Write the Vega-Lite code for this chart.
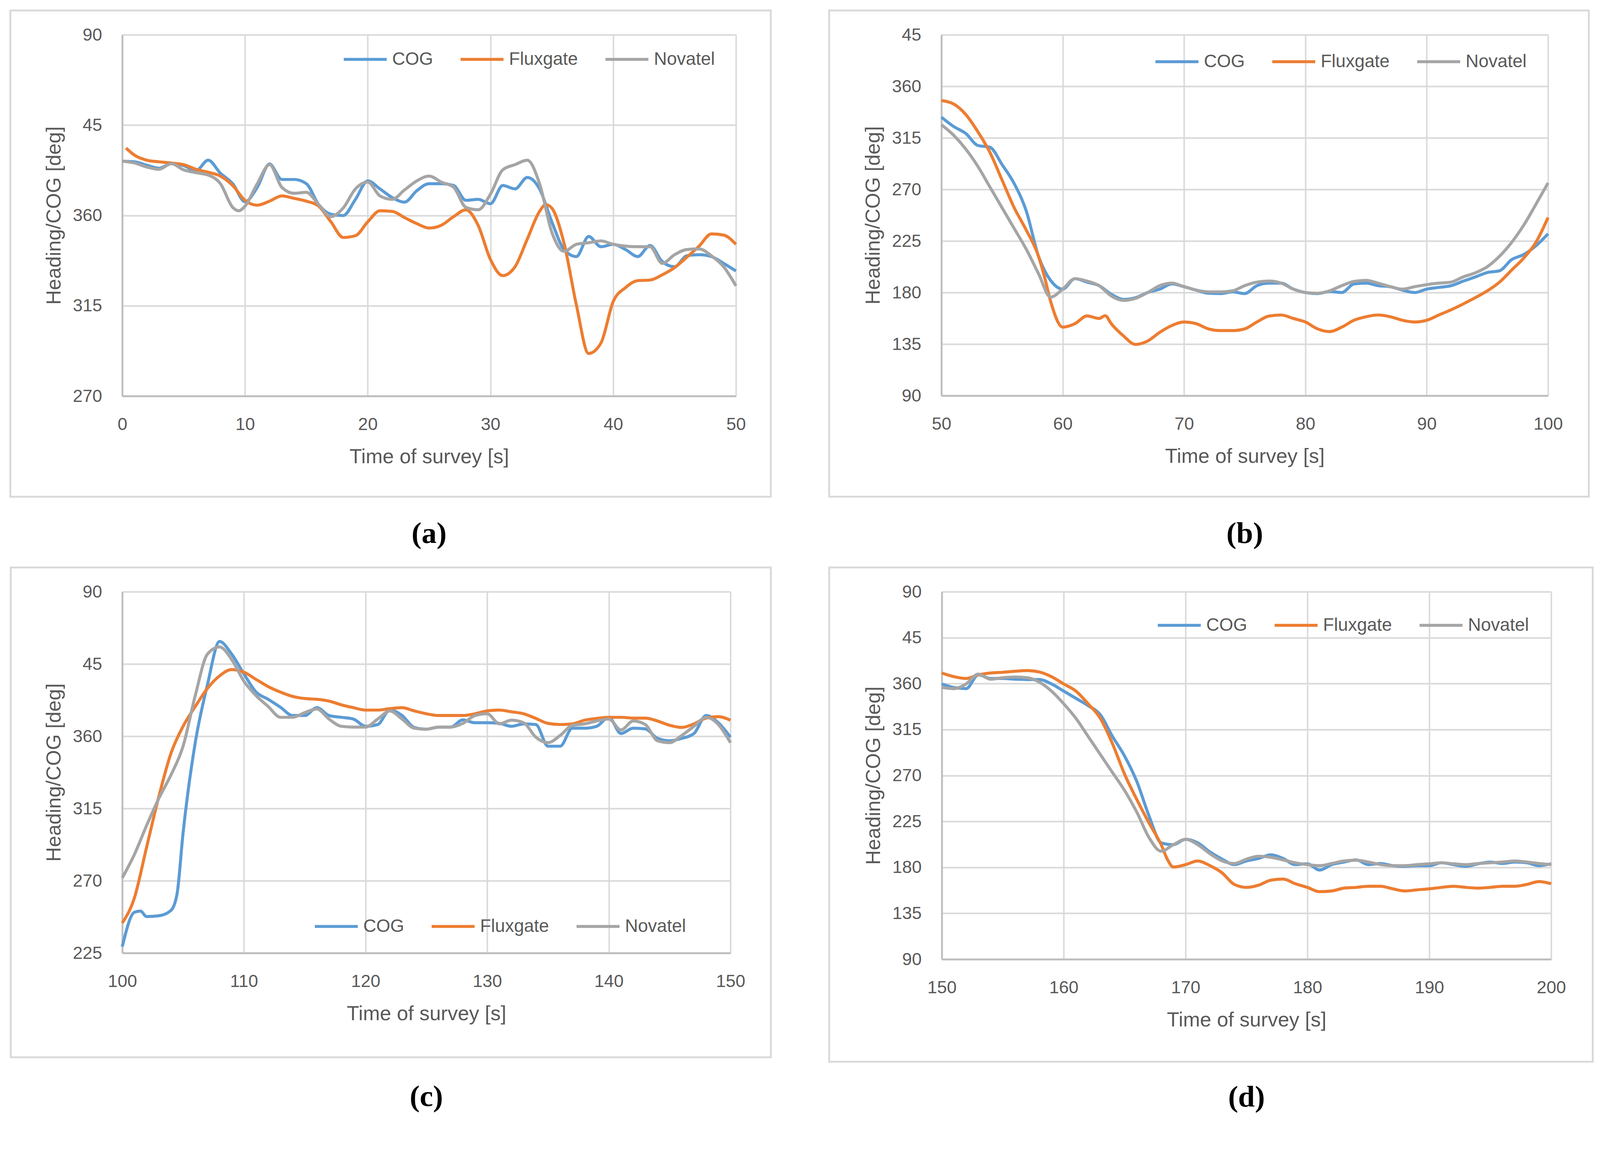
{
 "$schema": "https://vega.github.io/schema/vega-lite/v6.json",
 "padding": {"left": 24, "top": 24, "right": 4, "bottom": 6},
 "background": "white",
 "datasets": {
  "a": [
   {"t":0,"s":"COG","v":387},{"t":1,"s":"COG","v":386.7},{"t":2,"s":"COG","v":385},{"t":3,"s":"COG","v":383.5},{"t":4,"s":"COG","v":385.8},{"t":5,"s":"COG","v":384.8},{"t":6,"s":"COG","v":382.3},{"t":7,"s":"COG","v":387.5},{"t":8,"s":"COG","v":381},{"t":9,"s":"COG","v":375.8},{"t":10,"s":"COG","v":366.8},{"t":11,"s":"COG","v":374},{"t":12,"s":"COG","v":385.6},{"t":13,"s":"COG","v":377.9},{"t":14,"s":"COG","v":377.9},{"t":15,"s":"COG","v":375.8},{"t":16,"s":"COG","v":365.4},{"t":17,"s":"COG","v":360.6},{"t":18,"s":"COG","v":359.9},{"t":19,"s":"COG","v":368},{"t":20,"s":"COG","v":377.2},{"t":21,"s":"COG","v":373.2},{"t":22,"s":"COG","v":368.9},{"t":23,"s":"COG","v":366.6},{"t":24,"s":"COG","v":372.3},{"t":25,"s":"COG","v":375.8},{"t":26,"s":"COG","v":375.8},{"t":27,"s":"COG","v":374.9},{"t":28,"s":"COG","v":367.5},{"t":29,"s":"COG","v":368},{"t":30,"s":"COG","v":365.8},{"t":31,"s":"COG","v":374.9},{"t":32,"s":"COG","v":373.2},{"t":33,"s":"COG","v":378.9},{"t":34,"s":"COG","v":373.2},{"t":35,"s":"COG","v":356.8},{"t":36,"s":"COG","v":343},{"t":37,"s":"COG","v":339.5},{"t":38,"s":"COG","v":349.5},{"t":39,"s":"COG","v":344.4},{"t":40,"s":"COG","v":345.6},{"t":41,"s":"COG","v":343},{"t":42,"s":"COG","v":339.5},{"t":43,"s":"COG","v":345},{"t":44,"s":"COG","v":337},{"t":45,"s":"COG","v":334.4},{"t":46,"s":"COG","v":339.9},{"t":47,"s":"COG","v":340.4},{"t":48,"s":"COG","v":339.5},{"t":49,"s":"COG","v":336.1},{"t":50,"s":"COG","v":332.3},
   {"t":0.3,"s":"Fluxgate","v":393.6},{"t":1,"s":"Fluxgate","v":390},{"t":2,"s":"Fluxgate","v":387.5},{"t":3,"s":"Fluxgate","v":386.7},{"t":4,"s":"Fluxgate","v":386.1},{"t":5,"s":"Fluxgate","v":385.3},{"t":6,"s":"Fluxgate","v":383},{"t":7,"s":"Fluxgate","v":381.5},{"t":8,"s":"Fluxgate","v":379.6},{"t":9,"s":"Fluxgate","v":374.9},{"t":10,"s":"Fluxgate","v":367.5},{"t":11,"s":"Fluxgate","v":365.1},{"t":12,"s":"Fluxgate","v":367.1},{"t":13,"s":"Fluxgate","v":369.7},{"t":14,"s":"Fluxgate","v":368.5},{"t":15,"s":"Fluxgate","v":367.1},{"t":16,"s":"Fluxgate","v":364.6},{"t":17,"s":"Fluxgate","v":356.8},{"t":18,"s":"Fluxgate","v":349},{"t":19,"s":"Fluxgate","v":349.9},{"t":20,"s":"Fluxgate","v":356.8},{"t":21,"s":"Fluxgate","v":362.3},{"t":22,"s":"Fluxgate","v":362},{"t":23,"s":"Fluxgate","v":358.9},{"t":24,"s":"Fluxgate","v":355.9},{"t":25,"s":"Fluxgate","v":353.7},{"t":26,"s":"Fluxgate","v":355.1},{"t":27,"s":"Fluxgate","v":359.4},{"t":28,"s":"Fluxgate","v":362.8},{"t":29,"s":"Fluxgate","v":355},{"t":30,"s":"Fluxgate","v":338},{"t":31,"s":"Fluxgate","v":330},{"t":32,"s":"Fluxgate","v":334.4},{"t":33,"s":"Fluxgate","v":348.2},{"t":34,"s":"Fluxgate","v":362},{"t":34.5,"s":"Fluxgate","v":365.4},{"t":35,"s":"Fluxgate","v":363.6},{"t":36,"s":"Fluxgate","v":346},{"t":37,"s":"Fluxgate","v":315.4},{"t":38,"s":"Fluxgate","v":291.2},{"t":39,"s":"Fluxgate","v":296.4},{"t":40,"s":"Fluxgate","v":317.1},{"t":41,"s":"Fluxgate","v":324},{"t":42,"s":"Fluxgate","v":327.5},{"t":43,"s":"Fluxgate","v":327.8},{"t":44,"s":"Fluxgate","v":330.4},{"t":45,"s":"Fluxgate","v":334},{"t":46,"s":"Fluxgate","v":339.2},{"t":47,"s":"Fluxgate","v":344.7},{"t":48,"s":"Fluxgate","v":350.8},{"t":49,"s":"Fluxgate","v":350.2},{"t":50,"s":"Fluxgate","v":345.6},
   {"t":0,"s":"Novatel","v":387},{"t":1,"s":"Novatel","v":386.1},{"t":2,"s":"Novatel","v":384.1},{"t":3,"s":"Novatel","v":383},{"t":4,"s":"Novatel","v":385.8},{"t":5,"s":"Novatel","v":382.7},{"t":6,"s":"Novatel","v":381.3},{"t":7,"s":"Novatel","v":380.1},{"t":8,"s":"Novatel","v":375.8},{"t":9,"s":"Novatel","v":364},{"t":9.5,"s":"Novatel","v":362.3},{"t":10,"s":"Novatel","v":364.6},{"t":11,"s":"Novatel","v":375.8},{"t":12,"s":"Novatel","v":385.3},{"t":13,"s":"Novatel","v":374},{"t":14,"s":"Novatel","v":371},{"t":15,"s":"Novatel","v":371.5},{"t":16,"s":"Novatel","v":365.4},{"t":17,"s":"Novatel","v":359.4},{"t":18,"s":"Novatel","v":363.7},{"t":19,"s":"Novatel","v":373.2},{"t":20,"s":"Novatel","v":376.6},{"t":21,"s":"Novatel","v":369.7},{"t":22,"s":"Novatel","v":368},{"t":23,"s":"Novatel","v":372.7},{"t":24,"s":"Novatel","v":377.2},{"t":25,"s":"Novatel","v":379.6},{"t":26,"s":"Novatel","v":376.6},{"t":27,"s":"Novatel","v":374},{"t":28,"s":"Novatel","v":364},{"t":29,"s":"Novatel","v":362.8},{"t":30,"s":"Novatel","v":370.6},{"t":31,"s":"Novatel","v":382.7},{"t":32,"s":"Novatel","v":385.3},{"t":33,"s":"Novatel","v":387.5},{"t":34,"s":"Novatel","v":375.8},{"t":35,"s":"Novatel","v":351.6},{"t":36,"s":"Novatel","v":342.1},{"t":37,"s":"Novatel","v":345.6},{"t":38,"s":"Novatel","v":346.4},{"t":39,"s":"Novatel","v":347.3},{"t":40,"s":"Novatel","v":345.6},{"t":41,"s":"Novatel","v":344.7},{"t":42,"s":"Novatel","v":344.4},{"t":43,"s":"Novatel","v":344.4},{"t":44,"s":"Novatel","v":336.1},{"t":45,"s":"Novatel","v":340.4},{"t":46,"s":"Novatel","v":343},{"t":47,"s":"Novatel","v":343.3},{"t":48,"s":"Novatel","v":339.9},{"t":49,"s":"Novatel","v":334.4},{"t":50,"s":"Novatel","v":324.9}
  ],
  "b": [
   {"t":50,"s":"COG","v":333.1},{"t":51,"s":"COG","v":325},{"t":52,"s":"COG","v":318.9},{"t":53,"s":"COG","v":308.4},{"t":54,"s":"COG","v":306.8},{"t":55,"s":"COG","v":291.7},{"t":56,"s":"COG","v":275.1},{"t":57,"s":"COG","v":251},{"t":58,"s":"COG","v":211.7},{"t":59,"s":"COG","v":190.6},{"t":60,"s":"COG","v":183},{"t":61,"s":"COG","v":192.1},{"t":62,"s":"COG","v":189.1},{"t":63,"s":"COG","v":186},{"t":64,"s":"COG","v":178.5},{"t":65,"s":"COG","v":174},{"t":66,"s":"COG","v":175.5},{"t":67,"s":"COG","v":180},{"t":68,"s":"COG","v":183},{"t":69,"s":"COG","v":187.5},{"t":70,"s":"COG","v":185.1},{"t":71,"s":"COG","v":182.1},{"t":72,"s":"COG","v":179.4},{"t":73,"s":"COG","v":179.1},{"t":74,"s":"COG","v":180.6},{"t":75,"s":"COG","v":179.1},{"t":76,"s":"COG","v":186},{"t":77,"s":"COG","v":188.2},{"t":78,"s":"COG","v":188.2},{"t":79,"s":"COG","v":183},{"t":80,"s":"COG","v":180},{"t":81,"s":"COG","v":179.1},{"t":82,"s":"COG","v":180.9},{"t":83,"s":"COG","v":180},{"t":84,"s":"COG","v":187.5},{"t":85,"s":"COG","v":188.2},{"t":86,"s":"COG","v":186},{"t":87,"s":"COG","v":185.1},{"t":88,"s":"COG","v":182.1},{"t":89,"s":"COG","v":180},{"t":90,"s":"COG","v":183},{"t":91,"s":"COG","v":184.5},{"t":92,"s":"COG","v":186},{"t":93,"s":"COG","v":189.9},{"t":94,"s":"COG","v":193.6},{"t":95,"s":"COG","v":197.5},{"t":96,"s":"COG","v":199},{"t":97,"s":"COG","v":208.7},{"t":98,"s":"COG","v":213.2},{"t":99,"s":"COG","v":220.8},{"t":100,"s":"COG","v":231.3},
   {"t":50,"s":"Fluxgate","v":347.6},{"t":51,"s":"Fluxgate","v":344.6},{"t":52,"s":"Fluxgate","v":335.5},{"t":53,"s":"Fluxgate","v":320.4},{"t":54,"s":"Fluxgate","v":302.3},{"t":55,"s":"Fluxgate","v":278.2},{"t":56,"s":"Fluxgate","v":254},{"t":57,"s":"Fluxgate","v":234.4},{"t":58,"s":"Fluxgate","v":211.7},{"t":58.5,"s":"Fluxgate","v":193.6},{"t":59,"s":"Fluxgate","v":172.4},{"t":60,"s":"Fluxgate","v":149.8},{"t":61,"s":"Fluxgate","v":152.8},{"t":62,"s":"Fluxgate","v":159.6},{"t":63,"s":"Fluxgate","v":157.4},{"t":63.5,"s":"Fluxgate","v":159.8},{"t":64,"s":"Fluxgate","v":152.8},{"t":65,"s":"Fluxgate","v":142.2},{"t":66,"s":"Fluxgate","v":134.7},{"t":67,"s":"Fluxgate","v":137.7},{"t":68,"s":"Fluxgate","v":145.3},{"t":69,"s":"Fluxgate","v":151.3},{"t":70,"s":"Fluxgate","v":154.3},{"t":71,"s":"Fluxgate","v":152.8},{"t":72,"s":"Fluxgate","v":148.3},{"t":73,"s":"Fluxgate","v":146.8},{"t":74,"s":"Fluxgate","v":146.8},{"t":75,"s":"Fluxgate","v":148.3},{"t":76,"s":"Fluxgate","v":154.3},{"t":77,"s":"Fluxgate","v":159.5},{"t":78,"s":"Fluxgate","v":160.4},{"t":79,"s":"Fluxgate","v":157.4},{"t":80,"s":"Fluxgate","v":154.3},{"t":81,"s":"Fluxgate","v":148.3},{"t":82,"s":"Fluxgate","v":145.9},{"t":83,"s":"Fluxgate","v":149.8},{"t":84,"s":"Fluxgate","v":155.8},{"t":85,"s":"Fluxgate","v":158.9},{"t":86,"s":"Fluxgate","v":160.4},{"t":87,"s":"Fluxgate","v":158.9},{"t":88,"s":"Fluxgate","v":155.8},{"t":89,"s":"Fluxgate","v":154.3},{"t":90,"s":"Fluxgate","v":155.8},{"t":91,"s":"Fluxgate","v":160.4},{"t":92,"s":"Fluxgate","v":164.9},{"t":93,"s":"Fluxgate","v":170},{"t":94,"s":"Fluxgate","v":175.5},{"t":95,"s":"Fluxgate","v":181.5},{"t":96,"s":"Fluxgate","v":189.1},{"t":97,"s":"Fluxgate","v":199.6},{"t":98,"s":"Fluxgate","v":210.2},{"t":99,"s":"Fluxgate","v":223.8},{"t":100,"s":"Fluxgate","v":245.5},
   {"t":50,"s":"Novatel","v":326.5},{"t":51,"s":"Novatel","v":317.4},{"t":52,"s":"Novatel","v":305.3},{"t":53,"s":"Novatel","v":290.2},{"t":54,"s":"Novatel","v":272.1},{"t":55,"s":"Novatel","v":254},{"t":56,"s":"Novatel","v":235.9},{"t":57,"s":"Novatel","v":217.7},{"t":58,"s":"Novatel","v":196.6},{"t":59,"s":"Novatel","v":176},{"t":60,"s":"Novatel","v":183},{"t":61,"s":"Novatel","v":192.1},{"t":62,"s":"Novatel","v":190},{"t":63,"s":"Novatel","v":186},{"t":64,"s":"Novatel","v":177},{"t":65,"s":"Novatel","v":173.1},{"t":66,"s":"Novatel","v":174.9},{"t":67,"s":"Novatel","v":180},{"t":68,"s":"Novatel","v":186},{"t":69,"s":"Novatel","v":188.2},{"t":70,"s":"Novatel","v":185.1},{"t":71,"s":"Novatel","v":182.1},{"t":72,"s":"Novatel","v":180.6},{"t":73,"s":"Novatel","v":180.6},{"t":74,"s":"Novatel","v":181.5},{"t":75,"s":"Novatel","v":186},{"t":76,"s":"Novatel","v":189.1},{"t":77,"s":"Novatel","v":190},{"t":78,"s":"Novatel","v":188.2},{"t":79,"s":"Novatel","v":183},{"t":80,"s":"Novatel","v":180},{"t":81,"s":"Novatel","v":179.4},{"t":82,"s":"Novatel","v":181.5},{"t":83,"s":"Novatel","v":186},{"t":84,"s":"Novatel","v":189.7},{"t":85,"s":"Novatel","v":190.6},{"t":86,"s":"Novatel","v":188.2},{"t":87,"s":"Novatel","v":185.1},{"t":88,"s":"Novatel","v":183},{"t":89,"s":"Novatel","v":185.1},{"t":90,"s":"Novatel","v":186.9},{"t":91,"s":"Novatel","v":188.2},{"t":92,"s":"Novatel","v":189.1},{"t":93,"s":"Novatel","v":193.6},{"t":94,"s":"Novatel","v":197.2},{"t":95,"s":"Novatel","v":202.6},{"t":96,"s":"Novatel","v":211.7},{"t":97,"s":"Novatel","v":223.8},{"t":98,"s":"Novatel","v":238.9},{"t":99,"s":"Novatel","v":257},{"t":100,"s":"Novatel","v":275.7}
  ],
  "c": [
   {"t":100,"s":"COG","v":229},{"t":101,"s":"COG","v":250.4},{"t":101.5,"s":"COG","v":251.1},{"t":102,"s":"COG","v":247.7},{"t":103,"s":"COG","v":248.2},{"t":104,"s":"COG","v":251.5},{"t":104.5,"s":"COG","v":261.6},{"t":105,"s":"COG","v":299.9},{"t":106,"s":"COG","v":356},{"t":107,"s":"COG","v":392},{"t":108,"s":"COG","v":419},{"t":109,"s":"COG","v":411.1},{"t":110,"s":"COG","v":398.8},{"t":111,"s":"COG","v":387.5},{"t":112,"s":"COG","v":383},{"t":113,"s":"COG","v":378.1},{"t":114,"s":"COG","v":372.9},{"t":115,"s":"COG","v":372.9},{"t":116,"s":"COG","v":377.8},{"t":117,"s":"COG","v":372.9},{"t":118,"s":"COG","v":371.8},{"t":119,"s":"COG","v":370.7},{"t":120,"s":"COG","v":366.2},{"t":121,"s":"COG","v":367.3},{"t":122,"s":"COG","v":376.3},{"t":123,"s":"COG","v":372.9},{"t":124,"s":"COG","v":365.5},{"t":125,"s":"COG","v":364.4},{"t":126,"s":"COG","v":365.7},{"t":127,"s":"COG","v":365.7},{"t":128,"s":"COG","v":370.2},{"t":129,"s":"COG","v":368.4},{"t":130,"s":"COG","v":368.4},{"t":131,"s":"COG","v":368},{"t":132,"s":"COG","v":366.2},{"t":133,"s":"COG","v":367.7},{"t":134,"s":"COG","v":367.3},{"t":135,"s":"COG","v":353.8},{"t":136,"s":"COG","v":353.8},{"t":137,"s":"COG","v":365},{"t":138,"s":"COG","v":365},{"t":139,"s":"COG","v":366.2},{"t":140,"s":"COG","v":371.8},{"t":141,"s":"COG","v":361.7},{"t":142,"s":"COG","v":365},{"t":143,"s":"COG","v":364.6},{"t":144,"s":"COG","v":358.7},{"t":145,"s":"COG","v":357.2},{"t":146,"s":"COG","v":358.7},{"t":147,"s":"COG","v":361.7},{"t":148,"s":"COG","v":372.9},{"t":149,"s":"COG","v":368.4},{"t":150,"s":"COG","v":359.4},
   {"t":100,"s":"Fluxgate","v":243.7},{"t":101,"s":"Fluxgate","v":259.4},{"t":102,"s":"Fluxgate","v":290.9},{"t":103,"s":"Fluxgate","v":322.3},{"t":104,"s":"Fluxgate","v":349.3},{"t":105,"s":"Fluxgate","v":366.2},{"t":106,"s":"Fluxgate","v":378.5},{"t":107,"s":"Fluxgate","v":389.8},{"t":108,"s":"Fluxgate","v":397.6},{"t":109,"s":"Fluxgate","v":401.5},{"t":110,"s":"Fluxgate","v":399.9},{"t":111,"s":"Fluxgate","v":395.4},{"t":112,"s":"Fluxgate","v":390.9},{"t":113,"s":"Fluxgate","v":387.5},{"t":114,"s":"Fluxgate","v":384.8},{"t":115,"s":"Fluxgate","v":383.5},{"t":116,"s":"Fluxgate","v":383},{"t":117,"s":"Fluxgate","v":381.9},{"t":118,"s":"Fluxgate","v":379.6},{"t":119,"s":"Fluxgate","v":377.8},{"t":120,"s":"Fluxgate","v":376.3},{"t":121,"s":"Fluxgate","v":376.3},{"t":122,"s":"Fluxgate","v":377.2},{"t":123,"s":"Fluxgate","v":377.8},{"t":124,"s":"Fluxgate","v":375.8},{"t":125,"s":"Fluxgate","v":374},{"t":126,"s":"Fluxgate","v":372.9},{"t":127,"s":"Fluxgate","v":372.9},{"t":128,"s":"Fluxgate","v":372.9},{"t":129,"s":"Fluxgate","v":374},{"t":130,"s":"Fluxgate","v":375.8},{"t":131,"s":"Fluxgate","v":376.3},{"t":132,"s":"Fluxgate","v":375.2},{"t":133,"s":"Fluxgate","v":374},{"t":134,"s":"Fluxgate","v":371.1},{"t":135,"s":"Fluxgate","v":368},{"t":136,"s":"Fluxgate","v":367.3},{"t":137,"s":"Fluxgate","v":367.7},{"t":138,"s":"Fluxgate","v":370},{"t":139,"s":"Fluxgate","v":371.1},{"t":140,"s":"Fluxgate","v":371.8},{"t":141,"s":"Fluxgate","v":371.8},{"t":142,"s":"Fluxgate","v":371.3},{"t":143,"s":"Fluxgate","v":371.3},{"t":144,"s":"Fluxgate","v":369.5},{"t":145,"s":"Fluxgate","v":366.8},{"t":146,"s":"Fluxgate","v":365.5},{"t":147,"s":"Fluxgate","v":367.7},{"t":148,"s":"Fluxgate","v":371.3},{"t":149,"s":"Fluxgate","v":372.2},{"t":150,"s":"Fluxgate","v":370},
   {"t":100,"s":"Novatel","v":271.8},{"t":101,"s":"Novatel","v":286.4},{"t":102,"s":"Novatel","v":304.4},{"t":103,"s":"Novatel","v":321.2},{"t":104,"s":"Novatel","v":335.8},{"t":105,"s":"Novatel","v":353.8},{"t":106,"s":"Novatel","v":385.3},{"t":107,"s":"Novatel","v":411.1},{"t":108,"s":"Novatel","v":415.6},{"t":109,"s":"Novatel","v":407.7},{"t":110,"s":"Novatel","v":394.3},{"t":111,"s":"Novatel","v":385.3},{"t":112,"s":"Novatel","v":378.5},{"t":113,"s":"Novatel","v":371.8},{"t":114,"s":"Novatel","v":371.8},{"t":115,"s":"Novatel","v":374.7},{"t":116,"s":"Novatel","v":377},{"t":117,"s":"Novatel","v":370.7},{"t":118,"s":"Novatel","v":366.2},{"t":119,"s":"Novatel","v":365.7},{"t":120,"s":"Novatel","v":365.7},{"t":121,"s":"Novatel","v":370.7},{"t":122,"s":"Novatel","v":375.8},{"t":123,"s":"Novatel","v":370.7},{"t":124,"s":"Novatel","v":365},{"t":125,"s":"Novatel","v":364.4},{"t":126,"s":"Novatel","v":365.7},{"t":127,"s":"Novatel","v":365.7},{"t":128,"s":"Novatel","v":368},{"t":129,"s":"Novatel","v":372.9},{"t":130,"s":"Novatel","v":374},{"t":131,"s":"Novatel","v":367.7},{"t":132,"s":"Novatel","v":370},{"t":133,"s":"Novatel","v":368.4},{"t":134,"s":"Novatel","v":359.4},{"t":135,"s":"Novatel","v":356},{"t":136,"s":"Novatel","v":360.5},{"t":137,"s":"Novatel","v":366.8},{"t":138,"s":"Novatel","v":367.7},{"t":139,"s":"Novatel","v":369.5},{"t":140,"s":"Novatel","v":370.7},{"t":141,"s":"Novatel","v":363.9},{"t":142,"s":"Novatel","v":369.5},{"t":143,"s":"Novatel","v":367.3},{"t":144,"s":"Novatel","v":357.2},{"t":145,"s":"Novatel","v":356},{"t":146,"s":"Novatel","v":360.5},{"t":147,"s":"Novatel","v":366.2},{"t":148,"s":"Novatel","v":371.8},{"t":149,"s":"Novatel","v":367.3},{"t":150,"s":"Novatel","v":356}
  ],
  "d": [
   {"t":150,"s":"COG","v":359.7},{"t":151,"s":"COG","v":356.2},{"t":152,"s":"COG","v":355.1},{"t":153,"s":"COG","v":368.6},{"t":154,"s":"COG","v":365},{"t":155,"s":"COG","v":365},{"t":156,"s":"COG","v":364.3},{"t":157,"s":"COG","v":364},{"t":158,"s":"COG","v":364},{"t":159,"s":"COG","v":359.7},{"t":160,"s":"COG","v":352.7},{"t":161,"s":"COG","v":345.6},{"t":162,"s":"COG","v":338.5},{"t":163,"s":"COG","v":329.6},{"t":164,"s":"COG","v":308.4},{"t":165,"s":"COG","v":289},{"t":166,"s":"COG","v":264.2},{"t":167,"s":"COG","v":230.5},{"t":168,"s":"COG","v":204},{"t":169,"s":"COG","v":202.2},{"t":170,"s":"COG","v":207.5},{"t":171,"s":"COG","v":204},{"t":172,"s":"COG","v":195.1},{"t":173,"s":"COG","v":188.1},{"t":174,"s":"COG","v":182.7},{"t":175,"s":"COG","v":186.3},{"t":176,"s":"COG","v":188.8},{"t":177,"s":"COG","v":192.3},{"t":178,"s":"COG","v":188.8},{"t":179,"s":"COG","v":182.7},{"t":180,"s":"COG","v":183.5},{"t":181,"s":"COG","v":177.4},{"t":182,"s":"COG","v":182.7},{"t":183,"s":"COG","v":185.2},{"t":184,"s":"COG","v":187.3},{"t":185,"s":"COG","v":182.7},{"t":186,"s":"COG","v":183.8},{"t":187,"s":"COG","v":181.7},{"t":188,"s":"COG","v":181},{"t":189,"s":"COG","v":181.7},{"t":190,"s":"COG","v":181.7},{"t":191,"s":"COG","v":184.5},{"t":192,"s":"COG","v":182.7},{"t":193,"s":"COG","v":181},{"t":194,"s":"COG","v":183.5},{"t":195,"s":"COG","v":185.2},{"t":196,"s":"COG","v":183.8},{"t":197,"s":"COG","v":185.2},{"t":198,"s":"COG","v":184.5},{"t":199,"s":"COG","v":181.7},{"t":200,"s":"COG","v":183.5},
   {"t":150,"s":"Fluxgate","v":370.4},{"t":151,"s":"Fluxgate","v":366.8},{"t":152,"s":"Fluxgate","v":365},{"t":153,"s":"Fluxgate","v":368.6},{"t":154,"s":"Fluxgate","v":370.4},{"t":155,"s":"Fluxgate","v":371.1},{"t":156,"s":"Fluxgate","v":372.1},{"t":157,"s":"Fluxgate","v":372.8},{"t":158,"s":"Fluxgate","v":371.4},{"t":159,"s":"Fluxgate","v":366.8},{"t":160,"s":"Fluxgate","v":359.7},{"t":161,"s":"Fluxgate","v":352.7},{"t":162,"s":"Fluxgate","v":340.3},{"t":163,"s":"Fluxgate","v":326.1},{"t":164,"s":"Fluxgate","v":301.3},{"t":165,"s":"Fluxgate","v":271.2},{"t":166,"s":"Fluxgate","v":246.5},{"t":167,"s":"Fluxgate","v":223.5},{"t":168,"s":"Fluxgate","v":202.2},{"t":168.5,"s":"Fluxgate","v":188.1},{"t":169,"s":"Fluxgate","v":180.3},{"t":170,"s":"Fluxgate","v":182.7},{"t":171,"s":"Fluxgate","v":186.3},{"t":172,"s":"Fluxgate","v":181.7},{"t":173,"s":"Fluxgate","v":174.6},{"t":174,"s":"Fluxgate","v":163.3},{"t":175,"s":"Fluxgate","v":160.4},{"t":176,"s":"Fluxgate","v":162.6},{"t":177,"s":"Fluxgate","v":167.5},{"t":178,"s":"Fluxgate","v":168.6},{"t":179,"s":"Fluxgate","v":164},{"t":180,"s":"Fluxgate","v":160.4},{"t":181,"s":"Fluxgate","v":156.2},{"t":182,"s":"Fluxgate","v":156.9},{"t":183,"s":"Fluxgate","v":159.7},{"t":184,"s":"Fluxgate","v":160.4},{"t":185,"s":"Fluxgate","v":161.5},{"t":186,"s":"Fluxgate","v":161.5},{"t":187,"s":"Fluxgate","v":159},{"t":188,"s":"Fluxgate","v":156.9},{"t":189,"s":"Fluxgate","v":158},{"t":190,"s":"Fluxgate","v":159},{"t":191,"s":"Fluxgate","v":160.4},{"t":192,"s":"Fluxgate","v":161.5},{"t":193,"s":"Fluxgate","v":160.4},{"t":194,"s":"Fluxgate","v":159.7},{"t":195,"s":"Fluxgate","v":160.4},{"t":196,"s":"Fluxgate","v":161.5},{"t":197,"s":"Fluxgate","v":161.5},{"t":198,"s":"Fluxgate","v":163.3},{"t":199,"s":"Fluxgate","v":166.1},{"t":200,"s":"Fluxgate","v":164},
   {"t":150,"s":"Novatel","v":356.2},{"t":151,"s":"Novatel","v":355.1},{"t":152,"s":"Novatel","v":359.7},{"t":153,"s":"Novatel","v":369.3},{"t":154,"s":"Novatel","v":364.3},{"t":155,"s":"Novatel","v":365.8},{"t":156,"s":"Novatel","v":366.5},{"t":157,"s":"Novatel","v":365.8},{"t":158,"s":"Novatel","v":361.5},{"t":159,"s":"Novatel","v":352.7},{"t":160,"s":"Novatel","v":340.3},{"t":161,"s":"Novatel","v":326.1},{"t":162,"s":"Novatel","v":308.4},{"t":163,"s":"Novatel","v":290.7},{"t":164,"s":"Novatel","v":273},{"t":165,"s":"Novatel","v":255.3},{"t":166,"s":"Novatel","v":234.1},{"t":167,"s":"Novatel","v":209.3},{"t":168,"s":"Novatel","v":195.8},{"t":169,"s":"Novatel","v":202.2},{"t":170,"s":"Novatel","v":207.5},{"t":171,"s":"Novatel","v":202.2},{"t":172,"s":"Novatel","v":193.4},{"t":173,"s":"Novatel","v":186.3},{"t":174,"s":"Novatel","v":183.8},{"t":175,"s":"Novatel","v":188.1},{"t":176,"s":"Novatel","v":190.9},{"t":177,"s":"Novatel","v":189.9},{"t":178,"s":"Novatel","v":187.3},{"t":179,"s":"Novatel","v":184.5},{"t":180,"s":"Novatel","v":182.7},{"t":181,"s":"Novatel","v":181.7},{"t":182,"s":"Novatel","v":183.8},{"t":183,"s":"Novatel","v":186.3},{"t":184,"s":"Novatel","v":187},{"t":185,"s":"Novatel","v":185.2},{"t":186,"s":"Novatel","v":182.7},{"t":187,"s":"Novatel","v":181.7},{"t":188,"s":"Novatel","v":181.7},{"t":189,"s":"Novatel","v":182.7},{"t":190,"s":"Novatel","v":183.5},{"t":191,"s":"Novatel","v":184.5},{"t":192,"s":"Novatel","v":183.5},{"t":193,"s":"Novatel","v":182.7},{"t":194,"s":"Novatel","v":183.8},{"t":195,"s":"Novatel","v":184.5},{"t":196,"s":"Novatel","v":185.2},{"t":197,"s":"Novatel","v":186.3},{"t":198,"s":"Novatel","v":185.2},{"t":199,"s":"Novatel","v":183.8},{"t":200,"s":"Novatel","v":182.7}
  ]
 },
 "spacing": 44,
 "resolve": {"scale": {"color": "independent", "x": "independent", "y": "independent"}, "legend": {"color": "independent"}},
 "vconcat": [
  {
   "hconcat": [
    {
     "width": 1571, "height": 925,
     "title": {"text": "(a)", "orient": "bottom", "offset": 55},
     "layer": [
      {"data": {"name": "a"}, "mark": {"type": "line", "strokeWidth": 7.7, "interpolate": "monotone"},
       "encoding": {
        "x": {"field": "t", "type": "quantitative", "scale": {"domain": [0, 50], "nice": false, "zero": false}, "axis": {"title": "Time of survey [s]", "values": [0, 10, 20, 30, 40, 50]}},
        "y": {"field": "v", "type": "quantitative", "scale": {"domain": [270, 450], "nice": false, "zero": false}, "axis": {"title": "Heading/COG [deg]", "values": [270, 315, 360, 405, 450], "labelExpr": "datum.value > 360 ? datum.value - 360 : datum.value"}},
        "color": {"field": "s", "type": "nominal", "scale": {"domain": ["COG", "Fluxgate", "Novatel"], "range": ["#5b9bd5", "#ed7d31", "#a5a5a5"]}, "legend": {"title": null, "legendX": 563, "legendY": 4}}
       }},
      {"data": {"values": [{}]}, "mark": {"type": "rect", "fill": "transparent", "stroke": "#d9d9d9", "strokeWidth": 4.8, "clip": false},
       "encoding": {
        "x": {"datum": -9.12, "type": "quantitative", "scale": {"domain": [0, 50], "nice": false, "zero": false}},
        "x2": {"datum": 52.84},
        "y": {"datum": 462.1, "type": "quantitative", "scale": {"domain": [270, 450], "nice": false, "zero": false}},
        "y2": {"datum": 219.8}
       }}
     ]
    },
    {
     "width": 1553, "height": 924,
     "title": {"text": "(b)", "orient": "bottom", "offset": 55},
     "layer": [
      {"data": {"name": "b"}, "mark": {"type": "line", "strokeWidth": 7.7, "interpolate": "monotone"},
       "encoding": {
        "x": {"field": "t", "type": "quantitative", "scale": {"domain": [50, 100], "nice": false, "zero": false}, "axis": {"title": "Time of survey [s]", "values": [50, 60, 70, 80, 90, 100]}},
        "y": {"field": "v", "type": "quantitative", "scale": {"domain": [90, 405], "nice": false, "zero": false}, "axis": {"title": "Heading/COG [deg]", "values": [90, 135, 180, 225, 270, 315, 360, 405], "labelExpr": "datum.value > 360 ? datum.value - 360 : datum.value"}},
        "color": {"field": "s", "type": "nominal", "scale": {"domain": ["COG", "Fluxgate", "Novatel"], "range": ["#5b9bd5", "#ed7d31", "#a5a5a5"]}, "legend": {"title": null, "legendX": 544, "legendY": 10}}
       }},
      {"data": {"values": [{}]}, "mark": {"type": "rect", "fill": "transparent", "stroke": "#d9d9d9", "strokeWidth": 4.8, "clip": false},
       "encoding": {
        "x": {"datum": 40.75, "type": "quantitative", "scale": {"domain": [50, 100], "nice": false, "zero": false}},
        "x2": {"datum": 103.36},
        "y": {"datum": 426.2, "type": "quantitative", "scale": {"domain": [90, 405], "nice": false, "zero": false}},
        "y2": {"datum": 1.8}
       }}
     ]
    }
   ],
   "spacing": 144,
   "resolve": {"scale": {"color": "independent", "x": "independent", "y": "independent"}, "legend": {"color": "independent"}}
  },
  {
   "hconcat": [
    {
     "width": 1557, "height": 925,
     "title": {"text": "(c)", "orient": "bottom", "offset": 62},
     "layer": [
      {"data": {"name": "c"}, "mark": {"type": "line", "strokeWidth": 7.7, "interpolate": "monotone"},
       "encoding": {
        "x": {"field": "t", "type": "quantitative", "scale": {"domain": [100, 150], "nice": false, "zero": false}, "axis": {"title": "Time of survey [s]", "values": [100, 110, 120, 130, 140, 150]}},
        "y": {"field": "v", "type": "quantitative", "scale": {"domain": [225, 450], "nice": false, "zero": false}, "axis": {"title": "Heading/COG [deg]", "values": [225, 270, 315, 360, 405, 450], "labelExpr": "datum.value > 360 ? datum.value - 360 : datum.value"}},
        "color": {"field": "s", "type": "nominal", "scale": {"domain": ["COG", "Fluxgate", "Novatel"], "range": ["#5b9bd5", "#ed7d31", "#a5a5a5"]}, "legend": {"title": null, "legendX": 489, "legendY": 798}}
       }},
      {"data": {"values": [{}]}, "mark": {"type": "rect", "fill": "transparent", "stroke": "#d9d9d9", "strokeWidth": 4.8, "clip": false},
       "encoding": {
        "x": {"datum": 90.83, "type": "quantitative", "scale": {"domain": [100, 150], "nice": false, "zero": false}},
        "x2": {"datum": 153.32},
        "y": {"datum": 465.1, "type": "quantitative", "scale": {"domain": [225, 450], "nice": false, "zero": false}},
        "y2": {"datum": 160.1}
       }}
     ]
    },
    {
     "width": 1560, "height": 941,
     "title": {"text": "(d)", "orient": "bottom", "offset": 51},
     "layer": [
      {"data": {"name": "d"}, "mark": {"type": "line", "strokeWidth": 7.7, "interpolate": "monotone"},
       "encoding": {
        "x": {"field": "t", "type": "quantitative", "scale": {"domain": [150, 200], "nice": false, "zero": false}, "axis": {"title": "Time of survey [s]", "values": [150, 160, 170, 180, 190, 200]}},
        "y": {"field": "v", "type": "quantitative", "scale": {"domain": [90, 450], "nice": false, "zero": false}, "axis": {"title": "Heading/COG [deg]", "values": [90, 135, 180, 225, 270, 315, 360, 405, 450], "labelExpr": "datum.value > 360 ? datum.value - 360 : datum.value"}},
        "color": {"field": "s", "type": "nominal", "scale": {"domain": ["COG", "Fluxgate", "Novatel"], "range": ["#5b9bd5", "#ed7d31", "#a5a5a5"]}, "legend": {"title": null, "legendX": 549, "legendY": 27}}
       }},
      {"data": {"values": [{}]}, "mark": {"type": "rect", "fill": "transparent", "stroke": "#d9d9d9", "strokeWidth": 4.8, "clip": false},
       "encoding": {
        "x": {"datum": 140.76, "type": "quantitative", "scale": {"domain": [150, 200], "nice": false, "zero": false}},
        "x2": {"datum": 203.41},
        "y": {"datum": 473.8, "type": "quantitative", "scale": {"domain": [90, 450], "nice": false, "zero": false}},
        "y2": {"datum": -10.4}
       }}
     ]
    }
   ],
   "spacing": 144,
   "resolve": {"scale": {"color": "independent", "x": "independent", "y": "independent"}, "legend": {"color": "independent"}}
  }
 ],
 "config": {
  "view": {"stroke": null},
  "font": "Liberation Sans",
  "title": {"font": "Liberation Serif", "fontSize": 77, "fontWeight": "bold", "color": "#000000", "anchor": "middle", "baseline": "top"},
  "axis": {"labelFont": "Liberation Sans", "labelFontSize": 45, "labelColor": "#595959", "titleFont": "Liberation Sans", "titleFontSize": 52, "titleColor": "#595959", "titleFontWeight": "normal", "ticks": false, "tickSize": 0, "grid": true, "gridColor": "#d9d9d9", "gridWidth": 3.8, "domainColor": "#bfbfbf", "domainWidth": 4.8, "labelFlush": false, "labelOverlap": false},
  "axisX": {"labelPadding": 72, "labelBaseline": "middle", "titleY": 171, "titleBaseline": "alphabetic"},
  "axisY": {"labelPadding": 52, "titleX": -159, "titleBaseline": "alphabetic"},
  "legend": {"orient": "none", "direction": "horizontal", "symbolType": "stroke", "symbolSize": 12100, "symbolStrokeWidth": 7.7, "labelFont": "Liberation Sans", "labelFontSize": 46, "labelColor": "#595959", "labelOffset": 10, "labelLimit": 0, "columnPadding": 54, "padding": 0}
 }
}
